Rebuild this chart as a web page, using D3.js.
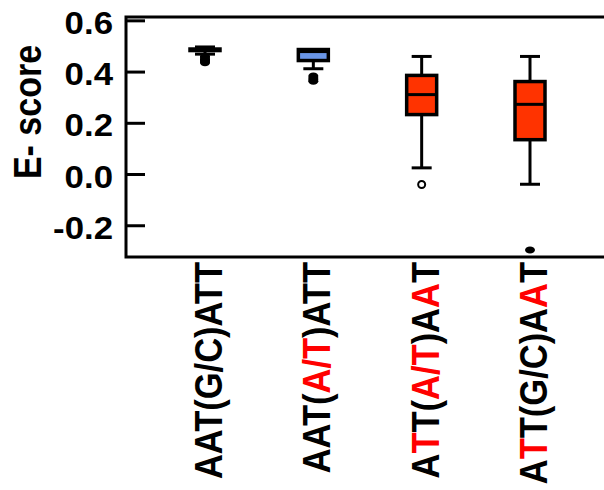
<!DOCTYPE html>
<meta charset="utf-8">
<html>
<head>
  <style>
    body { margin: 0; background: #fff; }
    svg { display: block; font-family: Arial, "Liberation Sans", sans-serif; font-weight: bold; }
  </style>
</head>
<body>
<svg id="chart" width="604" height="490"></svg>
<script src="https://d3js.org/d3.v7.min.js"></script>
<script>

// --- data ---
const categories = ["AAT(G/C)ATT", "AAT(A/T)ATT", "ATT(A/T)AAT", "ATT(G/C)AAT"];
// label pieces: [text, red?]
const labelParts = [
  [["AAT(G/C)ATT", false]],
  [["AAT(", false], ["A/T", true], [")ATT", false]],
  [["A", false], ["T", true], ["T(", false], ["A/T", true], [")A", false], ["A", true], ["T", false]],
  [["A", false], ["T", true], ["T(G/C)A", false], ["A", true], ["T", false]]
];
const lowerCap = [0.470, 0.413, 0.026, -0.038];
const q1       = [0.484, 0.445, 0.234, 0.136];
const median   = [0.487, 0.480, 0.312, 0.274];
const q3       = [0.490, 0.488, 0.387, 0.363];
const upperCap = [0.498, 0.488, 0.461, 0.461];
const outliers = [
  [0.462, 0.456, 0.450, 0.445, 0.440, 0.436],
  [0.385, 0.377, 0.370, 0.364],
  [-0.039],
  [-0.295]
];
const hollowOutlier = [false, false, true, false];
const boxFill = ["#000000", "#6a96e8", "#ff3300", "#ff3300"];
const yTicks = [0.6, 0.4, 0.2, 0.0, -0.2];
const yTickLabels = ["0.6", "0.4", "0.2", "0.0", "-0.2"];

const svg = d3.select("#chart");
const mLeft = 126, mTop = 17, mBottom = 257, mRight = 612;

const y = d3.scaleLinear().domain([-0.322, 0.615]).range([mBottom, mTop]);
const x = d3.scalePoint().domain(categories).range([205, 530]);

const boxW = 30, capW = 20;

// frame (right side runs off the picture)
svg.append("rect")
  .attr("x", mLeft).attr("y", mTop)
  .attr("width", mRight - mLeft).attr("height", mBottom - mTop)
  .attr("fill", "none").attr("stroke", "#000").attr("stroke-width", 3);

// y ticks, pointing inward
svg.append("g").selectAll("line")
  .data(yTicks)
  .join("line")
  .attr("x1", mLeft).attr("x2", mLeft + 19)
  .attr("y1", d => y(d)).attr("y2", d => y(d))
  .attr("stroke", "#000").attr("stroke-width", 3);

svg.append("g").selectAll("text")
  .data(yTicks)
  .join("text")
  .attr("text-anchor", "end")
  .attr("transform", d => `translate(113,${y(d) + 13}) scale(1.2,1.05)`)
  .attr("font-size", 29)
  .text((d, i) => yTickLabels[i]);

// y title
svg.append("text")
  .attr("transform", "translate(41,112) rotate(-90) scale(1,1.15)")
  .attr("text-anchor", "middle")
  .attr("font-size", 34)
  .text("E- score");

// boxes
const g = svg.append("g");
categories.forEach((c, i) => {
  const cx = x(c);
  // whiskers
  g.append("line").attr("x1", cx).attr("x2", cx)
    .attr("y1", y(upperCap[i])).attr("y2", y(q3[i]))
    .attr("stroke", "#000").attr("stroke-width", 3);
  g.append("line").attr("x1", cx).attr("x2", cx)
    .attr("y1", y(q1[i])).attr("y2", y(lowerCap[i]))
    .attr("stroke", "#000").attr("stroke-width", 3);
  [upperCap[i], lowerCap[i]].forEach(v => {
    g.append("line").attr("x1", cx - capW / 2).attr("x2", cx + capW / 2)
      .attr("y1", y(v)).attr("y2", y(v))
      .attr("stroke", "#000").attr("stroke-width", 3);
  });
  // box
  g.append("rect")
    .attr("x", cx - boxW / 2).attr("y", y(q3[i]))
    .attr("width", boxW).attr("height", y(q1[i]) - y(q3[i]))
    .attr("fill", boxFill[i]).attr("stroke", "#000").attr("stroke-width", 3.5);
  g.append("line").attr("x1", cx - boxW / 2).attr("x2", cx + boxW / 2)
    .attr("y1", y(median[i])).attr("y2", y(median[i]))
    .attr("stroke", "#000").attr("stroke-width", 3);
  // outliers
  g.selectAll(null)
    .data(outliers[i])
    .join("ellipse")
    .attr("cx", cx).attr("cy", d => y(d))
    .attr("rx", hollowOutlier[i] ? 3.5 : 5).attr("ry", 3.5)
    .attr("fill", hollowOutlier[i] ? "#fff" : "#000")
    .attr("stroke", "#000").attr("stroke-width", hollowOutlier[i] ? 2 : 0);
});

// x labels, rotated
const lab = svg.append("g").selectAll("text")
  .data(categories)
  .join("text")
  .attr("transform", d => `translate(${x(d) + 17},262) rotate(-90) scale(1,1.15)`)
  .attr("text-anchor", "end")
  .attr("font-size", 34.5);

lab.each(function(d, i) {
  d3.select(this).selectAll("tspan")
    .data(labelParts[i])
    .join("tspan")
    .attr("fill", p => p[1] ? "#ff0000" : "#000")
    .text(p => p[0]);
});

</script>
</body>
</html>
